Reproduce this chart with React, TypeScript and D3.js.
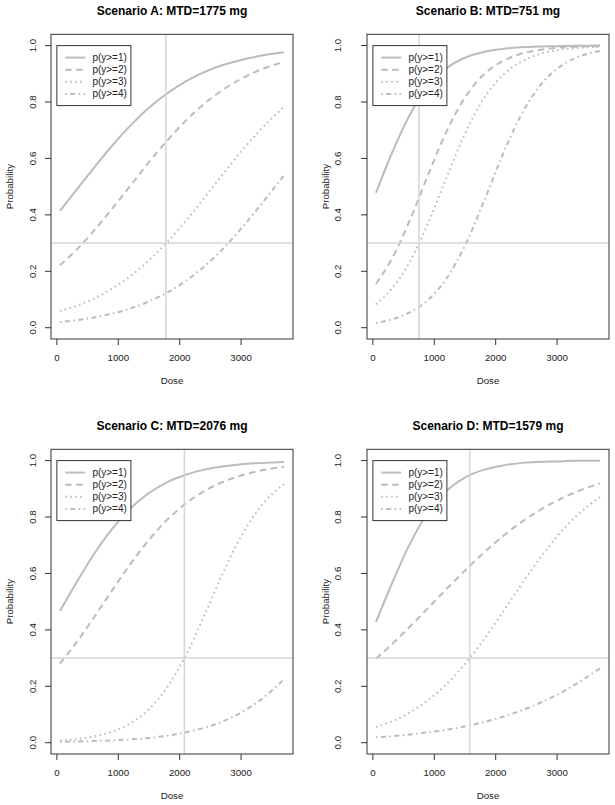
import React from "react";
import * as d3 from "d3";

const DOSES = [50, 300, 600, 900, 1200, 1500, 1800, 2100, 2400, 2700, 3000, 3300, 3700];

const SCENARIOS = ["A", "B", "C", "D"];
const MTDS = [1775, 751, 2076, 1579];

const A1 = [0.414, 0.483, 0.566, 0.645, 0.717, 0.78, 0.831, 0.873, 0.906, 0.931, 0.949, 0.963, 0.976];
const A2 = [0.221, 0.272, 0.343, 0.422, 0.504, 0.587, 0.664, 0.734, 0.794, 0.843, 0.882, 0.913, 0.942];
const A3 = [0.059, 0.076, 0.103, 0.139, 0.183, 0.239, 0.304, 0.379, 0.46, 0.543, 0.624, 0.698, 0.783];
const A4 = [0.02, 0.026, 0.036, 0.05, 0.068, 0.093, 0.125, 0.166, 0.217, 0.279, 0.351, 0.43, 0.54];

const B1 = [0.478, 0.614, 0.754, 0.856, 0.92, 0.957, 0.977, 0.988, 0.994, 0.997, 0.998, 0.999, 1.0];
const B2 = [0.155, 0.241, 0.38, 0.542, 0.696, 0.816, 0.896, 0.943, 0.97, 0.984, 0.992, 0.996, 0.998];
const B3 = [0.083, 0.136, 0.233, 0.371, 0.533, 0.688, 0.81, 0.892, 0.941, 0.969, 0.984, 0.991, 0.996];
const B4 = [0.017, 0.029, 0.054, 0.099, 0.175, 0.291, 0.443, 0.606, 0.748, 0.852, 0.918, 0.956, 0.981];

const C1 = [0.467, 0.561, 0.667, 0.758, 0.831, 0.885, 0.924, 0.95, 0.968, 0.979, 0.987, 0.991, 0.995];
const C2 = [0.28, 0.35, 0.443, 0.54, 0.634, 0.719, 0.791, 0.848, 0.892, 0.924, 0.947, 0.964, 0.978];
const C3 = [0.007, 0.012, 0.022, 0.039, 0.069, 0.119, 0.198, 0.31, 0.45, 0.599, 0.731, 0.832, 0.917];
const C4 = [0.003, 0.004, 0.006, 0.008, 0.012, 0.017, 0.025, 0.037, 0.053, 0.075, 0.107, 0.149, 0.225];

const D1 = [0.428, 0.559, 0.704, 0.817, 0.893, 0.94, 0.967, 0.982, 0.991, 0.995, 0.997, 0.999, 0.999];
const D2 = [0.298, 0.347, 0.411, 0.477, 0.545, 0.61, 0.672, 0.729, 0.779, 0.822, 0.858, 0.888, 0.919];
const D3 = [0.056, 0.075, 0.107, 0.151, 0.208, 0.279, 0.364, 0.458, 0.555, 0.648, 0.731, 0.801, 0.871];
const D4 = [0.019, 0.023, 0.029, 0.037, 0.046, 0.058, 0.073, 0.091, 0.113, 0.139, 0.17, 0.207, 0.264];

const SERIES = [
  [A1, A2, A3, A4],
  [B1, B2, B3, B4],
  [C1, C2, C3, C4],
  [D1, D2, D3, D4],
];

const LEGEND_LABELS = ["p(y>=1)", "p(y>=2)", "p(y>=3)", "p(y>=4)"];
const X_TICKS = [0, 1000, 2000, 3000];
const Y_TICKS = [0, 0.2, 0.4, 0.6, 0.8, 1.0];
const TARGET = 0.3;

const DASHES = ["none", "6.5,4.5", "1.6,3.4", "1.6,3.4,5,3.4"];
const CURVE_COLOR = "#bcbcbc";
const REF_COLOR = "#d6d6d6";
const FONT = "'Liberation Sans', Arial, Helvetica, sans-serif";

const OFFSETS = [
  [0, 0],
  [316, 0],
  [0, 415],
  [316, 415],
];
// baseline x of the rotated y tick labels (left column vs right column)
const YLAB_X = [36, 25, 36, 25];

function Panel({ idx }: { idx: number }) {
  const [ox, oy] = OFFSETS[idx];
  const ext = (d3.max(DOSES)! - d3.min(DOSES)!) * 0.04;
  const x = d3
    .scaleLinear()
    .domain([d3.min(DOSES)! - ext, d3.max(DOSES)! + ext])
    .range([51, 293]);
  const y = d3.scaleLinear().domain([-0.04, 1.04]).range([339, 34.3]);
  const [left, right] = x.range();
  const [bottom, top] = y.range();
  const line = d3
    .line<number>()
    .x((_, i) => x(DOSES[i]))
    .y((d) => y(d))
    .curve(d3.curveMonotoneX);
  const mtd = MTDS[idx];
  const lx = x(0);
  const ly = y(1);
  const lw = 74;
  const lh = 60;
  return (
    <g transform={`translate(${ox},${oy})`}>
      <text
        x={(left + right) / 2}
        y={15}
        textAnchor="middle"
        fontFamily={FONT}
        fontWeight="bold"
        fontSize={12}
        fill="#000"
      >
        {`Scenario ${SCENARIOS[idx]}: MTD=${mtd} mg`}
      </text>
      {SERIES[idx].map((s, k) => (
        <path
          key={k}
          d={line(s)!}
          fill="none"
          stroke={CURVE_COLOR}
          strokeWidth={2}
          strokeDasharray={DASHES[k]}
        />
      ))}
      <line x1={left} x2={right} y1={y(TARGET)} y2={y(TARGET)} stroke={REF_COLOR} strokeWidth={1.5} />
      <line x1={x(mtd)} x2={x(mtd)} y1={top} y2={bottom} stroke={REF_COLOR} strokeWidth={1.5} />
      {/* legend */}
      <rect x={lx} y={ly} width={lw} height={lh} fill="#fff" stroke="#333" strokeWidth={1} />
      {LEGEND_LABELS.map((lab, k) => {
        const cy = ly + 12 + k * 12.1;
        return (
          <g key={k}>
            <line
              x1={lx + 8.3}
              x2={lx + 28.3}
              y1={cy}
              y2={cy}
              stroke={CURVE_COLOR}
              strokeWidth={2}
              strokeDasharray={DASHES[k]}
            />
            <text x={lx + 35.5} y={cy + 3.6} fontFamily={FONT} fontSize={10} fill="#222">
              {lab}
            </text>
          </g>
        );
      })}
      {/* box */}
      <rect x={left} y={top} width={right - left} height={bottom - top} fill="none" stroke="#333" strokeWidth={1} />
      {/* x axis */}
      {X_TICKS.map((t) => (
        <g key={t}>
          <line x1={x(t)} x2={x(t)} y1={bottom} y2={bottom + 6} stroke="#333" strokeWidth={1} />
          <text x={x(t)} y={361} textAnchor="middle" fontFamily={FONT} fontSize={9.7} fill="#222">
            {t}
          </text>
        </g>
      ))}
      <text x={(left + right) / 2} y={383.5} textAnchor="middle" fontFamily={FONT} fontSize={9.7} fill="#222">
        Dose
      </text>
      {/* y axis */}
      {Y_TICKS.map((t) => (
        <g key={t}>
          <line x1={left - 6} x2={left} y1={y(t)} y2={y(t)} stroke="#333" strokeWidth={1} />
          <text
            transform={`translate(${YLAB_X[idx]},${y(t)}) rotate(-90)`}
            textAnchor="middle"
            fontFamily={FONT}
            fontSize={9.7}
            fill="#222"
          >
            {t.toFixed(1)}
          </text>
        </g>
      ))}
      <text
        transform={`translate(13,${(top + bottom) / 2}) rotate(-90)`}
        textAnchor="middle"
        fontFamily={FONT}
        fontSize={9.7}
        fill="#222"
      >
        Probability
      </text>
    </g>
  );
}

export default function App() {
  return (
    <>
      <style>{`body{margin:0;background:#fff}`}</style>
      <svg width={615} height={805} style={{ display: "block", background: "#fff" }}>
        <rect x={0} y={0} width={615} height={805} fill="#fff" />
        {SCENARIOS.map((_, i) => (
          <Panel key={i} idx={i} />
        ))}
      </svg>
    </>
  );
}
